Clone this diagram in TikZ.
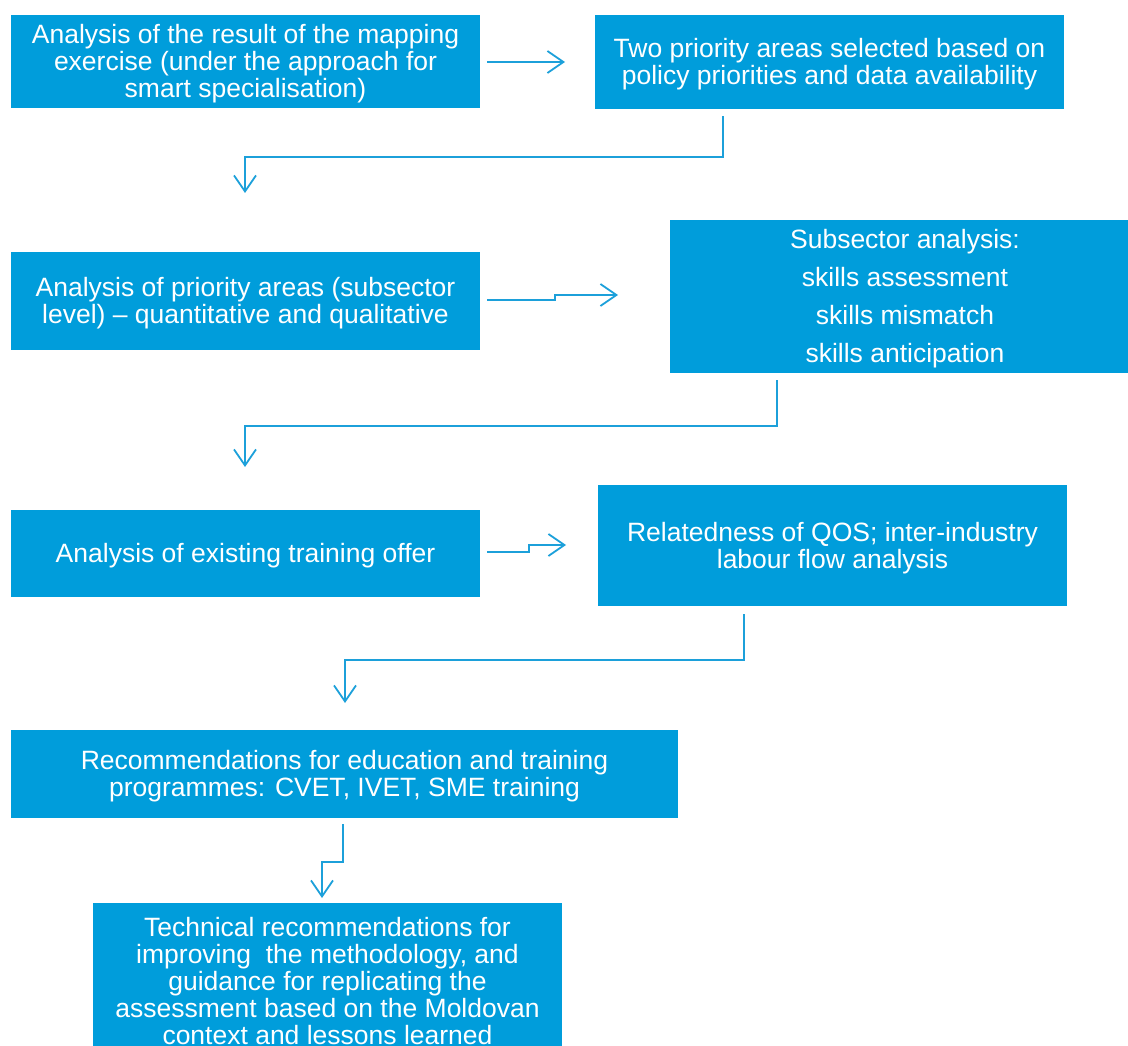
\documentclass[tikz,border=0pt]{standalone}
\usepackage{fontspec}
\setmainfont{Liberation Sans}
\usetikzlibrary{arrows.meta}
\definecolor{boxblue}{HTML}{009DDB}
\definecolor{lineblue}{HTML}{1CA0DA}
\tikzset{
  box/.style={fill=boxblue, draw=none, inner sep=0pt},
  boxtext/.style={text=white, inner sep=0pt, align=center,
    font=\fontsize{26.5}{27}\selectfont},
  conn/.style={draw=lineblue, line width=1.8pt,
    -{Straight Barb[length=16pt,width=22pt,line width=1.8pt]}},
}
\begin{document}
\begin{tikzpicture}[x=1pt,y=-1pt]
\useasboundingbox (0,0) rectangle (1128,1046);
\node[box, minimum width=469pt, minimum height=93pt] (b1) at (245.5,61.5) {};
\node[boxtext] (t1) at ([yshift=-2.5pt]b1.center)
  {Analysis of the result of the mapping\\exercise (under the approach for\\smart specialisation)};
\node[box, minimum width=469pt, minimum height=94pt] (b2) at (829.5,62) {};
\node[boxtext] (t2) at ([yshift=-2.5pt]b2.center)
  {Two priority areas selected based on\\policy priorities and data availability};
\node[box, minimum width=469pt, minimum height=98pt] (b3) at (245.5,301) {};
\node[boxtext] (t3) at ([yshift=-2.5pt]b3.center)
  {Analysis of priority areas (subsector\\level) -- quantitative and qualitative};
\node[box, minimum width=458pt, minimum height=153pt] (b4) at (899,296.5) {};
\node[boxtext, font=\fontsize{26.5}{38}\selectfont] (t4) at ([xshift=6pt,yshift=-2.5pt]b4.center)
  {Subsector analysis:\\skills assessment\\skills mismatch\\skills anticipation};
\node[box, minimum width=469pt, minimum height=87pt] (b5) at (245.5,553.5) {};
\node[boxtext] (t5) at ([yshift=-2.5pt]b5.center)
  {Analysis of existing training offer};
\node[box, minimum width=469pt, minimum height=121pt] (b6) at (832.5,545.5) {};
\node[boxtext] (t6) at ([yshift=-2.5pt]b6.center)
  {Relatedness of QOS; inter-industry\\labour flow analysis};
\node[box, minimum width=667pt, minimum height=88pt] (b7) at (344.5,774) {};
\node[boxtext] (t7) at ([yshift=-2.5pt]b7.center)
  {Recommendations for education and training\\programmes: CVET, IVET, SME training};
\node[box, minimum width=469pt, minimum height=151pt] (b8) at (327.5,978.5) {};
\node[boxtext] (t8) at ([yshift=-2.5pt]b8.center)
  {Technical recommendations for\\improving\ \ the methodology, and\\guidance for replicating the\\assessment based on the Moldovan\\context and lessons learned};

\coordinate (e1) at (565,62);
\coordinate (e2) at (245,193);
\coordinate (e3) at (618,295);
\coordinate (e4) at (245,467);
\coordinate (e5) at (566,545);
\coordinate (e6) at (345,703);
\coordinate (e7) at (322,898);

\draw[conn] ([xshift=7pt]b1.east |- e1) -- (e1);
\draw[conn] ([xshift=-106.5pt,yshift=-7pt]b2.south) |- (245,157) -- (e2);
\draw[conn] ([xshift=7pt]b3.east |- 0,300) -- (555,300) -- (555,295) -- (e3);
\draw[conn] ([xshift=-122pt,yshift=-7pt]b4.south) |- (245,426) -- (e4);
\draw[conn] ([xshift=7pt]b5.east |- 0,552) -- (529,552) -- (529,545) -- (e5);
\draw[conn] ([xshift=-88.5pt,yshift=-8pt]b6.south) |- (345,660) -- (e6);
\draw[conn] ([xshift=-1.5pt,yshift=-6pt]b7.south) |- (322,862) -- (e7);
\end{tikzpicture}
\end{document}
